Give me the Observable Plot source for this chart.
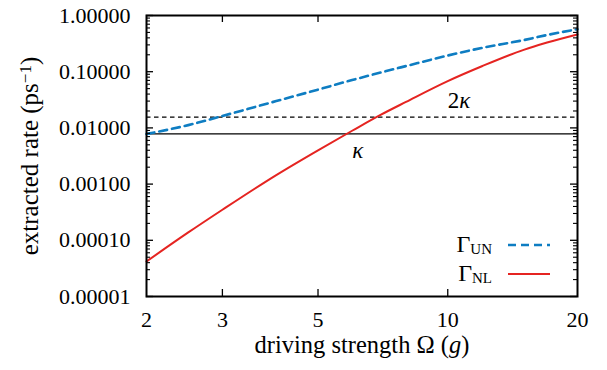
<!DOCTYPE html>
<html><head><meta charset="utf-8">
<script src="https://cdn.jsdelivr.net/npm/d3@7"></script>
<script src="https://cdn.jsdelivr.net/npm/@observablehq/plot@0.6"></script>
<style>
html,body{margin:0;padding:0;background:#fff;}
#wrap{width:607px;height:370px;}
</style></head><body><div id="wrap"></div>
<script>
// ---- data ----
const omega   = [2, 2.5, 3, 4, 5, 6, 7, 8, 10, 12, 15, 17, 20];
const gammaUN = [0.0078, 0.0112, 0.0163, 0.030, 0.048, 0.071, 0.097, 0.126, 0.194, 0.265, 0.365, 0.45, 0.57];
const gammaNL = [4.2e-5, 1.38e-4, 3.5e-4, 1.45e-3, 4.0e-3, 8.9e-3, 0.0172, 0.029, 0.068, 0.125, 0.245, 0.33, 0.46];
const kappa = 0.0078;
const refLines  = [{name: "κ", value: kappa, dash: null}, {name: "2κ", value: 2 * kappa, dash: "4.5,3.5"}];
const refLabels = [{text: "κ", x: 6.18, y: kappa, dy: 17}, {text: "2κ", x: 10.62, y: 2 * kappa, dy: -16}];
const xTicks = [2, 3, 5, 10, 20];
const xTickLabels = ["2", "3", "5", "10", "20"];
const yTicks = [1e-5, 1e-4, 1e-3, 1e-2, 1e-1, 1];
const yTickLabels = ["0.00001", "0.00010", "0.00100", "0.01000", "0.10000", "1.00000"];
const series = [
  {name: "Γ", sub: "UN", color: "#0e7dc2", dash: "8,5", width: 2.6, values: gammaUN},
  {name: "Γ", sub: "NL", color: "#e52421", dash: null, width: 2, values: gammaNL}
];

const W = 607, H = 370, mL = 146, mR = 30, mT = 15, mB = 74;
const pW = W - mL - mR, pH = H - mT - mB;
const yMinor = [];
for (let e = -5; e < 0; e++) for (let m = 2; m <= 9; m++) yMinor.push(m * Math.pow(10, e));
const xInner = xTicks.slice(1, -1);
const fmtY = d => yTickLabels[yTicks.findIndex(v => Math.abs(Math.log10(v / d)) < 1e-6)];
const fmtX = d => xTickLabels[xTicks.findIndex(v => Math.abs(v - d) < 1e-9)];

const rows = s => omega.map((x, i) => ({x, y: s.values[i]}));
const FONT = "Liberation Serif";

const plot = Plot.plot({
  width: W, height: H,
  marginLeft: mL, marginRight: mR, marginTop: mT, marginBottom: mB,
  style: {fontFamily: FONT, fontSize: "22px", background: "white", color: "black"},
  x: {type: "log", domain: [2, 20]},
  y: {type: "log", domain: [1e-5, 1]},
  marks: [
    ...refLines.map(r => Plot.ruleY([r.value], {stroke: "black", strokeWidth: 1.3, strokeDasharray: r.dash})),
    ...series.map(s => Plot.line(rows(s), {x: "x", y: "y", stroke: s.color, strokeWidth: s.width, strokeDasharray: s.dash, curve: "monotone-x"})),
    ...refLabels.map(l => Plot.text([l], {x: "x", y: "y", dy: l.dy, text: "text", fontSize: 23, fontStyle: "italic"})),
    Plot.tickY(yTicks, {y: d => d, insetRight: pW - 7, stroke: "black", strokeWidth: 1.3}),
    Plot.tickY(yTicks, {y: d => d, insetLeft: pW - 7, stroke: "black", strokeWidth: 1.3}),
    Plot.tickY(yMinor, {y: d => d, insetRight: pW - 4, stroke: "black", strokeWidth: 1.1}),
    Plot.tickY(yMinor, {y: d => d, insetLeft: pW - 4, stroke: "black", strokeWidth: 1.1}),
    Plot.tickX(xInner, {x: d => d, insetTop: pH - 7, stroke: "black", strokeWidth: 1.3}),
    Plot.tickX(xInner, {x: d => d, insetBottom: pH - 7, stroke: "black", strokeWidth: 1.3}),
    Plot.frame({stroke: "black", strokeWidth: 2}),
    Plot.axisY({ticks: yTicks, tickFormat: fmtY, tickSize: 0, tickPadding: 16, fontSize: 22,
      label: "extracted rate (ps−1)", labelAnchor: "center", labelOffset: 126, labelArrow: "none"}),
    Plot.axisX({ticks: xTicks, tickFormat: fmtX, tickSize: 0, tickPadding: 15, fontSize: 22,
      label: "driving strength Ω (g)", labelAnchor: "center", labelOffset: 56, labelArrow: "none"})
  ]
});
document.getElementById("wrap").appendChild(plot);

const svg = d3.select(plot);

// rich text for labels
svg.selectAll("text").each(function() {
  const t = d3.select(this);
  const txt = this.textContent;
  if (txt === "extracted rate (ps−1)") {
    t.attr("font-size", 25).style("font-size", "25px");
    t.selectAll("*").remove(); t.text(null);
    t.append("tspan").text("extracted rate (ps");
    t.append("tspan").attr("dy", "-0.45em").style("font-size", "17px").text("−1");
    t.append("tspan").attr("dy", "0.3em").text(")");
  } else if (txt === "driving strength Ω (g)") {
    t.attr("font-size", 24.5).style("font-size", "24.5px");
    t.selectAll("*").remove(); t.text(null);
    t.append("tspan").text("driving strength Ω (");
    t.append("tspan").style("font-style", "italic").text("g");
    t.append("tspan").text(")");
  } else if (txt === "2κ") {
    t.text(null);
    t.append("tspan").style("font-style", "normal").text("2");
    t.append("tspan").text("κ");
  }
});

// legend
const lg = svg.append("g").attr("font-family", FONT);
series.forEach((s, i) => {
  const y = 245 + i * 29;
  const tx = lg.append("text").attr("x", 492).attr("y", y + 7).attr("text-anchor", "end");
  tx.append("tspan").style("font-size", "24px").text(s.name);
  tx.append("tspan").attr("dy", 2).style("font-size", "15px").text(s.sub);
  lg.append("line").attr("x1", 508).attr("x2", 550).attr("y1", y).attr("y2", y)
    .attr("stroke", s.color).attr("stroke-width", s.width).attr("stroke-dasharray", s.dash);
});
</script>
</body></html>
